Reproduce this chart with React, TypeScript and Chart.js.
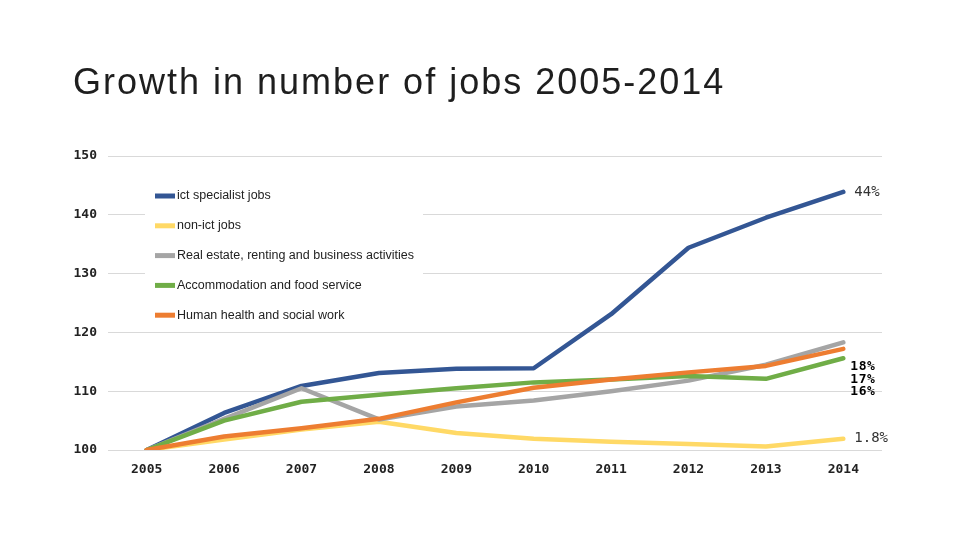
import React, { useEffect, useRef } from "react";
import { Chart, registerables } from "chart.js";

Chart.register(...registerables);

const years = ["2005", "2006", "2007", "2008", "2009", "2010", "2011", "2012", "2013", "2014"];
const seriesNames = [
  "ict specialist jobs",
  "non-ict jobs",
  "Real estate, renting and business activities",
  "Accommodation and food service",
  "Human health and social work",
];
const ictValues = [100, 106.3, 110.9, 113.1, 113.8, 113.9, 123.1, 134.4, 139.5, 143.9];
const nonIctValues = [100, 101.8, 103.5, 104.8, 102.9, 101.9, 101.4, 101.0, 100.6, 101.9];
const realEstateValues = [100, 105.3, 110.5, 105.2, 107.4, 108.4, 110.0, 111.8, 114.5, 118.3];
const accommodationValues = [100, 105.0, 108.2, 109.4, 110.5, 111.5, 112.0, 112.6, 112.1, 115.6];
const healthValues = [100, 102.3, 103.7, 105.3, 108.1, 110.6, 112.0, 113.2, 114.3, 117.2];
const seriesColors = ["#335694", "#FFD966", "#A5A5A5", "#70AD47", "#ED7D31"];

const endLabelTexts = ["44%", "18%", "17%", "16%", "1.8%"];
const endLabelValues = [143.9, 114.1, 111.9, 110.0, 101.9];
const endLabelBold = [false, true, true, true, false];

const yTicks = [100, 110, 120, 130, 140, 150];
const titleText = "Growth in number of jobs 2005-2014";

export default function App() {
  const canvasRef = useRef<HTMLCanvasElement | null>(null);

  useEffect(() => {
    document.body.style.margin = "0";
    const canvas = canvasRef.current;
    if (!canvas) return;

    const allValues = [ictValues, nonIctValues, realEstateValues, accommodationValues, healthValues];

    const overlayPlugin = {
      id: "overlay",
      afterDraw(chart: any) {
        const ctx = chart.ctx as CanvasRenderingContext2D;
        const xs = chart.scales.x;
        const ys = chart.scales.y;
        ctx.save();
        // title
        ctx.fillStyle = "#1e1e1e";
        ctx.font = '36px "Liberation Sans"';
        (ctx as any).letterSpacing = "2px";
        ctx.textBaseline = "alphabetic";
        ctx.textAlign = "left";
        ctx.fillText(titleText, 73, 94);
        (ctx as any).letterSpacing = "0px";

        // legend
        ctx.fillStyle = "#ffffff";
        ctx.fillRect(145, 181, 278, 148);
        ctx.font = '12.5px "Liberation Sans"';
        ctx.textBaseline = "middle";
        seriesNames.forEach((name, i) => {
          const y = 196 + i * 29.8;
          ctx.strokeStyle = seriesColors[i];
          ctx.lineWidth = 5;
          ctx.beginPath();
          ctx.moveTo(155, y);
          ctx.lineTo(175, y);
          ctx.stroke();
          ctx.fillStyle = "#222";
          ctx.fillText(name, 177, y);
        });

        // end labels
        const lastX = xs.getPixelForValue(years.length - 1);
        endLabelTexts.forEach((t, i) => {
          const y = ys.getPixelForValue(endLabelValues[i]);
          if (endLabelBold[i]) {
            ctx.font = 'bold 13px "DejaVu Sans Mono"';
            (ctx as any).letterSpacing = "0.5px";
            ctx.fillStyle = "#000";
            ctx.fillText(t, lastX + 7, y);
            (ctx as any).letterSpacing = "0px";
          } else {
            ctx.font = '14px "DejaVu Sans Mono"';
            ctx.fillStyle = "#333";
            ctx.fillText(t, lastX + 11, y);
          }
        });
        ctx.restore();
      },
    };

    const chart = new Chart(canvas, {
      type: "line",
      data: {
        labels: years,
        datasets: seriesNames.map((name, i) => ({
          label: name,
          data: allValues[i],
          borderColor: seriesColors[i],
          backgroundColor: seriesColors[i],
          borderWidth: 4.5,
          pointRadius: 0,
          tension: 0,
          borderJoinStyle: "round" as const,
          borderCapStyle: "round" as const,
          order: 5 - i,
        })),
      },
      options: {
        animation: false,
        responsive: true,
        maintainAspectRatio: false,
        layout: { padding: { left: 60, right: 78, top: 156, bottom: 50 } },
        plugins: {
          legend: { display: false },
          title: { display: false },
          tooltip: { enabled: false },
        },
        scales: {
          x: {
            offset: true,
            grid: { display: false, drawTicks: false },
            border: { display: false },
            ticks: {
              padding: 12,
              color: "#222",
              font: { family: "DejaVu Sans Mono", size: 13, weight: "bold" },
            },
            afterFit(scale: any) {
              scale.height = 40;
            },
          },
          y: {
            min: 100,
            max: 150,
            grid: { color: "#d9d9d9", lineWidth: 1, drawTicks: false },
            border: { display: false },
            afterBuildTicks(scale: any) {
              scale.ticks = yTicks.map((v) => ({ value: v }));
            },
            ticks: {
              padding: 11,
              color: "#222",
              font: { family: "DejaVu Sans Mono", size: 13, weight: "bold" },
            },
            afterFit(scale: any) {
              scale.width = 48;
            },
          },
        },
      },
      plugins: [overlayPlugin],
    });

    return () => {
      chart.destroy();
    };
  }, []);

  return (
    <div style={{ position: "fixed", left: 0, top: 0, width: 960, height: 540, background: "#fff" }}>
      <canvas ref={canvasRef} />
    </div>
  );
}
